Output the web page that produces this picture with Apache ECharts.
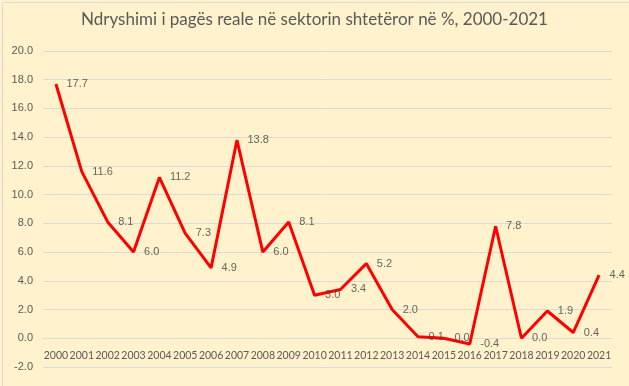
<!DOCTYPE html>
<html>
<head>
<meta charset="utf-8">
<script src="https://cdn.jsdelivr.net/npm/echarts@6/dist/echarts.min.js"></script>
<style>
html,body{margin:0;padding:0;background:#fff;}
#c{width:629px;height:386px;}
</style>
</head>
<body>
<div id="c"></div>
<script>
const years = ['2000','2001','2002','2003','2004','2005','2006','2007','2008','2009','2010','2011','2012','2013','2014','2015','2016','2017','2018','2019','2020','2021'];
const values = [17.7, 11.6, 8.1, 6.0, 11.2, 7.3, 4.9, 13.8, 6.0, 8.1, 3.0, 3.4, 5.2, 2.0, 0.1, 0.0, -0.4, 7.8, 0.0, 1.9, 0.4, 4.4];
const titleText = 'Ndryshimi i pagës reale në sektorin shtetëror në %, 2000-2021';

const chart = echarts.init(document.getElementById('c'), null, {renderer: 'canvas'});
chart.setOption({
  backgroundColor: '#FFF2CC',
  animation: false,
  graphic: [{
    type: 'rect', left: 0, top: 0,
    shape: {x: 0.5, y: 0.5, width: 627, height: 384},
    style: {fill: 'none', stroke: '#D9D9D9', lineWidth: 1}
  }],
  title: {
    text: titleText, left: 'center', top: 6,
    textStyle: {fontFamily: 'Lato', fontSize: 17, fontWeight: 'normal', color: '#595959'}
  },
  grid: {left: 43, right: 17, top: 51, bottom: 19, containLabel: false},
  xAxis: {
    type: 'category', data: years, boundaryGap: true,
    offset: -29,
    axisLine: {onZero: false, lineStyle: {color: '#D9D9D9'}},
    axisTick: {show: false},
    axisLabel: {interval: 0, margin: 12, fontFamily: 'Lato', fontSize: 10.5, color: '#595959', hideOverlap: false}
  },
  yAxis: {
    type: 'value', min: -2, max: 20, interval: 2,
    axisLine: {show: false}, axisTick: {show: false},
    splitLine: {lineStyle: {color: '#D9D9D9', width: 1}},
    axisLabel: {margin: 10, fontFamily: 'Liberation Sans', fontSize: 11, color: '#595959',
      formatter: v => v.toFixed(1)}
  },
  series: [{
    type: 'line', data: values, showSymbol: false, symbol: 'none',
    lineStyle: {color: '#FF0000', width: 3}, z: 2
  }, {
    type: 'scatter', data: values, symbol: 'circle', symbolSize: 1,
    itemStyle: {color: 'rgba(0,0,0,0)'}, z: 3,
    labelLayout: {hideOverlap: false},
    label: {show: true, position: 'right', distance: 10,
      fontFamily: 'Liberation Sans', fontSize: 11, color: '#404040',
      formatter: p => p.value.toFixed(1)}
  }]
});
</script>
</body>
</html>
